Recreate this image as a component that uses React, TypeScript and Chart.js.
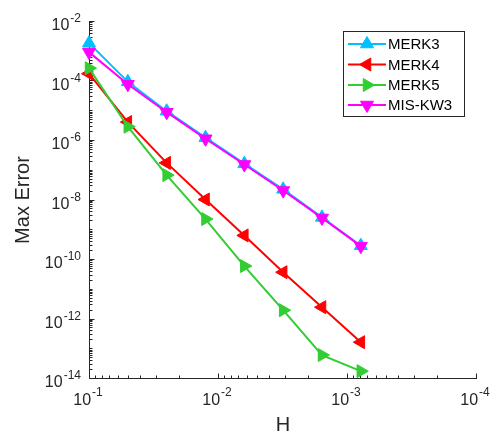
import React, { useEffect, useRef } from 'react';
import { Chart, registerables } from 'chart.js';

Chart.register(...registerables);

// ---- data ----
const H = [0.1, 0.05, 0.025, 0.0125, 0.00625, 0.003125, 0.0015625, 0.00078125];
const SERIES_NAMES = ['MERK3', 'MERK4', 'MERK5', 'MIS-KW3'];
const MERK3 = [1.8e-3, 9.0e-5, 9.3e-6, 1.2e-6, 1.6e-7, 2.2e-8, 2.5e-9, 2.8e-10];
const MERK4 = [1.7e-4, 4.0e-6, 1.7e-7, 1.0e-8, 6.2e-10, 3.6e-11, 2.4e-12, 1.6e-13];
const MERK5 = [2.6e-4, 2.8e-6, 6.6e-8, 2.2e-9, 5.8e-11, 1.9e-12, 5.9e-14, 1.7e-14];
const MIS_KW3 = [9.0e-4, 7.5e-5, 8.6e-6, 1.1e-6, 1.5e-7, 2.0e-8, 2.4e-9, 2.7e-10];
const X_TICK_EXPONENTS = [-1, -2, -3, -4];
const Y_TICK_EXPONENTS = [-2, -4, -6, -8, -10, -12, -14];
const X_TITLE = 'H';
const Y_TITLE = 'Max Error';

const FONT = '"Liberation Sans", Arial, Helvetica, sans-serif';
const AXIS_COLOR = '#262626';
const COLORS = ['#00BFFF', '#FF0000', '#32CD32', '#FF00FF'];
const ROTATIONS = [0, -90, 90, 180];
const SERIES = [MERK3, MERK4, MERK5, MIS_KW3];

function triangle(ctx: CanvasRenderingContext2D, x: number, y: number, r: number, rotDeg: number) {
  let rad = (rotDeg * Math.PI) / 180;
  ctx.beginPath();
  ctx.moveTo(x + Math.sin(rad) * r, y - Math.cos(rad) * r);
  rad += (2 * Math.PI) / 3;
  ctx.lineTo(x + Math.sin(rad) * r, y - Math.cos(rad) * r);
  rad += (2 * Math.PI) / 3;
  ctx.lineTo(x + Math.sin(rad) * r, y - Math.cos(rad) * r);
  ctx.closePath();
  ctx.fill();
  ctx.stroke();
}

function drawPow(ctx: CanvasRenderingContext2D, exp: number, x: number, py: number, mode: 'y' | 'x') {
  const base = '10';
  const sup = '-' + Math.abs(exp);
  ctx.font = `16px ${FONT}`;
  const w1 = ctx.measureText(base).width;
  ctx.font = `12px ${FONT}`;
  const w2 = ctx.measureText(sup).width;
  let start: number;
  let mainBase: number;
  let supBase: number;
  if (mode === 'y') {
    start = x - 8 - w1 - w2 - 1;
    mainBase = py + 9;
    supBase = py + 1;
  } else {
    start = x - (w1 + w2 + 1) / 2 - 1;
    mainBase = py + 27;
    supBase = py + 18;
  }
  ctx.fillStyle = AXIS_COLOR;
  ctx.textAlign = 'left';
  ctx.textBaseline = 'alphabetic';
  ctx.font = `16px ${FONT}`;
  ctx.fillText(base, start, mainBase);
  ctx.font = `12px ${FONT}`;
  ctx.fillText(sup, start + w1 + 1, supBase);
}

const matlabAxes = {
  id: 'matlabAxes',
  beforeDatasetsDraw(chart: any) {
    const { ctx, chartArea } = chart;
    const { left, right, top, bottom } = chartArea;
    const xs = chart.scales.x;
    const ys = chart.scales.y;
    ctx.save();
    ctx.strokeStyle = AXIS_COLOR;
    ctx.lineWidth = 1;
    const L = Math.round(left) + 0.5;
    const B = Math.round(bottom) + 0.5;
    ctx.beginPath();
    ctx.moveTo(L, Math.round(top));
    ctx.lineTo(L, B);
    ctx.lineTo(Math.round(right) + 1, B);
    ctx.stroke();

    // x ticks
    const xMin = Math.min(...X_TICK_EXPONENTS);
    const xMax = Math.max(...X_TICK_EXPONENTS);
    ctx.beginPath();
    for (let e = xMin; e <= xMax; e++) {
      const px = Math.round(xs.getPixelForValue(Math.pow(10, e))) + 0.5;
      ctx.moveTo(px, B);
      ctx.lineTo(px, B - 5);
      if (e < xMax) {
        for (let m = 2; m <= 9; m++) {
          const qx = Math.round(xs.getPixelForValue(m * Math.pow(10, e))) + 0.5;
          ctx.moveTo(qx, B);
          ctx.lineTo(qx, B - 3);
        }
      }
    }
    // y ticks
    const yMin = Math.min(...Y_TICK_EXPONENTS);
    const yMax = Math.max(...Y_TICK_EXPONENTS);
    for (let e = yMin; e <= yMax; e++) {
      const py = Math.round(ys.getPixelForValue(Math.pow(10, e))) + 0.5;
      if (Y_TICK_EXPONENTS.includes(e)) {
        ctx.moveTo(L, py);
        ctx.lineTo(L + 5, py);
      } else {
        ctx.moveTo(L, py);
        ctx.lineTo(L + 3, py);
      }
      if (e < yMax) {
        for (let m = 2; m <= 9; m++) {
          const qy = Math.round(ys.getPixelForValue(m * Math.pow(10, e))) + 0.5;
          ctx.moveTo(L, qy);
          ctx.lineTo(L + 3, qy);
        }
      }
    }
    ctx.stroke();

    // tick labels
    for (const e of X_TICK_EXPONENTS) {
      drawPow(ctx, e, xs.getPixelForValue(Math.pow(10, e)), bottom, 'x');
    }
    for (const e of Y_TICK_EXPONENTS) {
      drawPow(ctx, e, left, ys.getPixelForValue(Math.pow(10, e)), 'y');
    }

    // axis titles
    ctx.fillStyle = AXIS_COLOR;
    ctx.font = `20px ${FONT}`;
    ctx.textAlign = 'center';
    ctx.textBaseline = 'alphabetic';
    ctx.fillText(X_TITLE, (left + right) / 2 + 0.5, bottom + 53);
    ctx.save();
    ctx.translate(29, (top + bottom) / 2 + 0.5);
    ctx.rotate(-Math.PI / 2);
    ctx.fillText(Y_TITLE, 0, 0);
    ctx.restore();
    ctx.restore();
  },
  afterDatasetsDraw(chart: any) {
    const { ctx } = chart;
    ctx.save();
    const bx = 343.5, by = 31.5, bw = 121, bh = 85;
    ctx.fillStyle = '#ffffff';
    ctx.fillRect(bx, by, bw, bh);
    ctx.strokeStyle = AXIS_COLOR;
    ctx.lineWidth = 1;
    ctx.strokeRect(bx, by, bw, bh);
    const rowY = [44, 64.5, 85, 105];
    chart.data.datasets.forEach((ds: any, i: number) => {
      const y = rowY[i];
      ctx.strokeStyle = ds.borderColor;
      ctx.lineWidth = 2;
      ctx.beginPath();
      ctx.moveTo(348, y);
      ctx.lineTo(386, y);
      ctx.stroke();
      ctx.fillStyle = ds.borderColor;
      ctx.lineWidth = 1;
      triangle(ctx, 367, y, 7.5, ROTATIONS[i]);
      ctx.fillStyle = '#000000';
      ctx.font = `15px ${FONT}`;
      ctx.textAlign = 'left';
      ctx.textBaseline = 'middle';
      ctx.fillText(ds.label, 388, y + 1);
    });
    ctx.restore();
  },
};

export default function App() {
  const ref = useRef<HTMLCanvasElement | null>(null);
  useEffect(() => {
    if (!ref.current) return;
    const datasets = SERIES_NAMES.map((name, i) => ({
      label: name,
      data: H.map((h, j) => ({ x: h, y: SERIES[i][j] })),
      borderColor: COLORS[i],
      backgroundColor: COLORS[i],
      pointBackgroundColor: COLORS[i],
      pointBorderColor: COLORS[i],
      pointStyle: 'triangle' as const,
      rotation: ROTATIONS[i],
      pointRadius: 7.5,
      pointBorderWidth: 1,
      borderWidth: 2,
      tension: 0,
      clip: false as any,
      order: SERIES_NAMES.length - i,
    }));
    const chart = new Chart(ref.current, {
      type: 'line',
      data: { datasets },
      options: {
        animation: false,
        responsive: false,
        maintainAspectRatio: false,
        layout: { padding: { left: 89, right: 16, top: 21, bottom: 59 } },
        plugins: { legend: { display: false }, tooltip: { enabled: false } },
        scales: {
          x: { type: 'logarithmic', reverse: true, min: 1e-4, max: 1e-1, display: false },
          y: { type: 'logarithmic', min: 1e-14, max: 1e-2, display: false },
        },
      },
      plugins: [matlabAxes],
    });
    return () => chart.destroy();
  }, []);
  return (
    <div style={{ position: 'fixed', left: 0, top: 0, width: 492, height: 437, background: '#fff' }}>
      <canvas ref={ref} width={492} height={437} style={{ width: 492, height: 437, display: 'block' }} />
    </div>
  );
}
